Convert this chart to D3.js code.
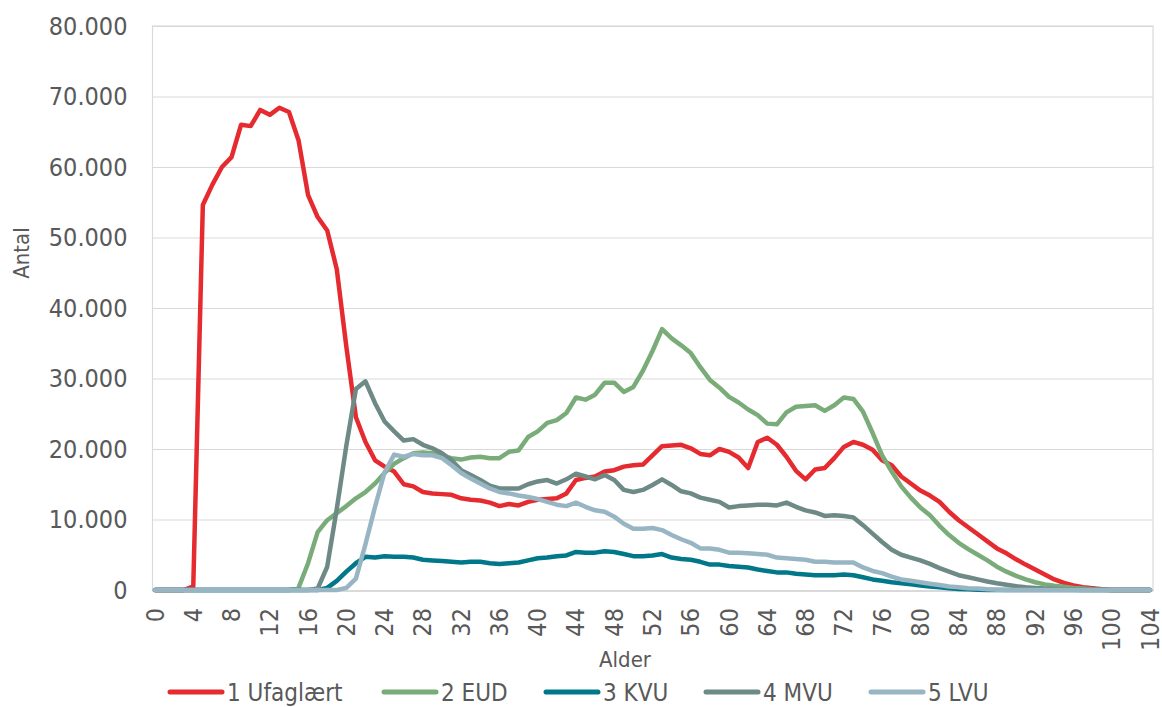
<!DOCTYPE html>
<html>
<head>
<meta charset="utf-8">
<script src="https://cdn.jsdelivr.net/npm/d3@7"></script>
<style>
    body { margin: 0; background: #fff; }
    svg text { font-family: "DejaVu Sans Condensed", "DejaVu Sans", sans-serif; fill: #595959; }
</style>
</head>
<body>
<div id="main"></div>
<script>
// ages 0..104 (categories)
var ages = d3.range(0, 105);
var yTicks = [0, 10000, 20000, 30000, 40000, 50000, 60000, 70000, 80000];
var seriesNames = ["1 Ufaglært", "2 EUD", "3 KVU", "4 MVU", "5 LVU"];
var seriesColors = ["#E52B2F", "#79AC79", "#00788A", "#6D8A87", "#98B5C4"];

var ufaglaert = [0, 0, 0, 0, 500, 54600, 57500, 60000, 61400, 66000,
    65800, 68100, 67400, 68400, 67800, 63800, 56000, 52900, 51000, 45500,
    34500, 24500, 21000, 18400, 17500, 16800, 15000, 14700, 13900, 13700,
    13600, 13500, 13000, 12800, 12700, 12400, 11900, 12200, 12000, 12500,
    12800, 12900, 13000, 13700, 15600, 15900, 16100, 16800, 17000, 17500,
    17700, 17800, 19100, 20400, 20500, 20600, 20100, 19300, 19100, 20000,
    19600, 18800, 17300, 21000, 21600, 20600, 18900, 16900, 15700, 17100,
    17300, 18700, 20300, 21000, 20600, 19900, 18400, 17700, 16100, 15100,
    14100, 13400, 12500, 11100, 9900, 8900, 7900, 6900, 5900, 5200,
    4350, 3600, 2900, 2200, 1500, 1000, 650, 400, 250, 100,
    0, 0, 0, 0, 0];
var eud = [0, 0, 0, 0, 0, 0, 0, 0, 0, 0,
    0, 0, 0, 0, 0, 300, 3800, 8200, 9900, 10900,
    11900, 13000, 13900, 15100, 16600, 17900, 18700, 19400, 19500, 19400,
    19000, 18700, 18500, 18800, 18900, 18700, 18700, 19600, 19800, 21700,
    22500, 23700, 24100, 25100, 27300, 27000, 27700, 29400, 29400, 28100,
    28800, 31100, 33900, 37000, 35700, 34700, 33600, 31600, 29800, 28700,
    27400, 26600, 25600, 24800, 23600, 23500, 25200, 26000, 26100, 26200,
    25400, 26200, 27300, 27100, 25300, 22300, 19100, 16800, 14700, 13100,
    11700, 10600, 9100, 7800, 6700, 5800, 5000, 4200, 3300, 2600,
    2000, 1500, 1100, 800, 600, 450, 300, 200, 100, 50,
    0, 0, 0, 0, 0];
var kvu = [0, 0, 0, 0, 0, 0, 0, 0, 0, 0,
    0, 0, 0, 0, 0, 0, 0, 0, 300, 1300,
    2600, 3800, 4700, 4600, 4800, 4700, 4700, 4600, 4300, 4200,
    4100, 4000, 3900, 4000, 4000, 3800, 3700, 3800, 3900, 4200,
    4500, 4600, 4800, 4900, 5400, 5300, 5300, 5500, 5400, 5100,
    4800, 4800, 4900, 5100, 4600, 4400, 4300, 4000, 3600, 3600,
    3400, 3300, 3200, 2900, 2700, 2500, 2500, 2300, 2200, 2100,
    2100, 2100, 2200, 2100, 1800, 1500, 1300, 1100, 950, 800,
    650, 500, 400, 250, 150, 100, 50, 0, 0, 0,
    0, 0, 0, 0, 0, 0, 0, 0, 0, 0,
    0, 0, 0, 0, 0];
var mvu = [0, 0, 0, 0, 0, 0, 0, 0, 0, 0,
    0, 0, 0, 0, 0, 0, 0, 200, 3300, 11500,
    20500, 28500, 29600, 26500, 23900, 22500, 21200, 21400, 20600, 20100,
    19400, 18400, 17000, 16300, 15600, 14800, 14400, 14400, 14400, 15000,
    15400, 15600, 15100, 15700, 16500, 16100, 15700, 16300, 15600, 14200,
    13900, 14200, 14900, 15700, 14900, 14000, 13700, 13100, 12800, 12500,
    11700, 11900, 12000, 12100, 12100, 12000, 12400, 11800, 11300, 11000,
    10500, 10600, 10500, 10300, 9200, 8000, 6800, 5700, 5000, 4600,
    4200, 3700, 3100, 2600, 2100, 1800, 1500, 1200, 950, 750,
    550, 400, 300, 200, 150, 100, 50, 0, 0, 0,
    0, 0, 0, 0, 0];
var lvu = [0, 0, 0, 0, 0, 0, 0, 0, 0, 0,
    0, 0, 0, 0, 0, 0, 0, 0, 0, 0,
    300, 1600, 6500, 11800, 16700, 19200, 18900, 19300, 19100, 19100,
    18700, 17700, 16600, 15800, 15100, 14400, 13900, 13700, 13400, 13200,
    12900, 12500, 12100, 11900, 12400, 11800, 11300, 11100, 10400, 9400,
    8700, 8700, 8800, 8500, 7800, 7200, 6700, 5900, 5900, 5700,
    5300, 5300, 5200, 5100, 5000, 4600, 4500, 4400, 4300, 4000,
    4000, 3900, 3900, 3900, 3200, 2700, 2400, 1900, 1500, 1300,
    1100, 900, 700, 500, 400, 250, 200, 100, 50, 0,
    0, 0, 0, 0, 0, 0, 0, 0, 0, 0,
    0, 0, 0, 0, 0];

var allSeries = [ufaglaert, eud, kvu, mvu, lvu];

var ctx = {
    w: 1162,
    h: 707,
    left: 155,
    right: 1150,
    top: 26,
    bottom: 590,
};

var locale = d3.formatLocale({ decimal: ",", thousands: ".", grouping: [3], currency: ["", " kr"] });
var fmt = locale.format(",.0f");

var svg = d3.select("#main").append("svg")
    .attr("width", ctx.w)
    .attr("height", ctx.h);

var x = d3.scaleLinear().domain([0, 104]).range([ctx.left, ctx.right]);
var y = d3.scaleLinear().domain([0, 80000]).range([ctx.bottom, ctx.top]);

// plot area border
svg.append("rect")
    .attr("x", 152.5).attr("y", ctx.top)
    .attr("width", 1153 - 152.5).attr("height", ctx.bottom - ctx.top + 1)
    .attr("fill", "none").attr("stroke", "#D9D9D9").attr("stroke-width", 1.2);

// gridlines + y labels
var yAxis = svg.append("g")
    .attr("transform", "translate(152.5,0)")
    .call(d3.axisLeft(y).tickValues(yTicks).tickFormat(fmt)
        .tickSize(-(1153 - 152.5)).tickPadding(25));
yAxis.select(".domain").remove();
yAxis.selectAll(".tick line").attr("stroke", "#D9D9D9").attr("stroke-width", 1.2);
yAxis.selectAll(".tick text").attr("font-size", 25).style("fill", "#595959");

// x labels
var xAxis = svg.append("g")
    .attr("transform", "translate(0," + (ctx.bottom + 1) + ")")
    .call(d3.axisBottom(x).tickValues(ages.filter(function (a) { return a % 4 === 0; }))
        .tickFormat(d3.format("d")).tickSize(0));
xAxis.select(".domain").attr("stroke", "#D9D9D9").attr("stroke-width", 1.2);
xAxis.selectAll(".tick text")
    .attr("font-size", 25)
    .style("fill", "#595959")
    .attr("text-anchor", "end")
    .attr("transform", "rotate(-90)")
    .attr("x", -17)
    .attr("y", 0)
    .attr("dy", "0.32em");

// axis titles
svg.append("text")
    .attr("x", 625).attr("y", 667)
    .attr("text-anchor", "middle")
    .attr("font-size", 22)
    .text("Alder");
svg.append("text")
    .attr("transform", "translate(29,253) rotate(-90)")
    .attr("text-anchor", "middle")
    .attr("font-size", 22)
    .text("Antal");

// series lines
var line = d3.line()
    .x(function (d, i) { return x(ages[i]); })
    .y(function (d) { return y(d); });

svg.append("g")
    .selectAll("path")
    .data(allSeries)
    .enter()
    .append("path")
    .attr("d", line)
    .attr("fill", "none")
    .attr("stroke", function (d, i) { return seriesColors[i]; })
    .attr("stroke-width", 4.5)
    .attr("stroke-linejoin", "round")
    .attr("stroke-linecap", "round");

// legend
var legendX = [170, 384, 546, 706, 871];
var legend = svg.append("g")
    .selectAll("g")
    .data(seriesNames)
    .enter()
    .append("g")
    .attr("transform", function (d, i) { return "translate(" + legendX[i] + ",692)"; });
legend.append("line")
    .attr("x1", 0).attr("x2", 52)
    .attr("stroke", function (d, i) { return seriesColors[i]; })
    .attr("stroke-width", 5)
    .attr("stroke-linecap", "round");
legend.append("text")
    .attr("x", 57).attr("y", 8.5)
    .attr("font-size", 24)
    .text(function (d) { return d; });
</script>
</body>
</html>
